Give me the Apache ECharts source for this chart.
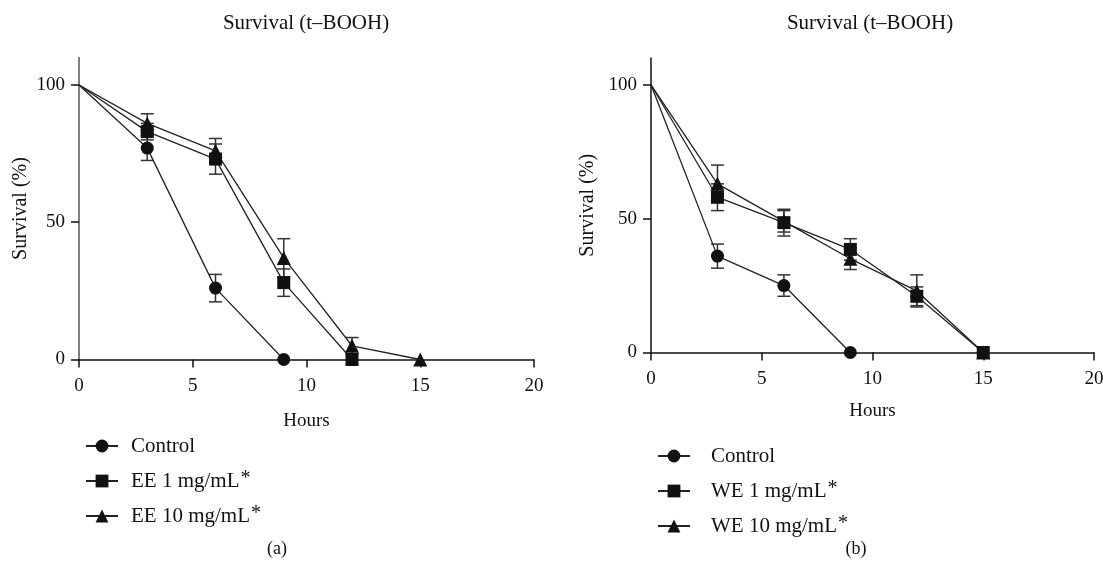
<!DOCTYPE html>
<html>
<head>
    <meta http-equiv="Content-Type" content="text/html; charset=utf-8"/>
    <script src="https://cdn.jsdelivr.net/npm/echarts@6/dist/echarts.min.js"></script>
    <style>
        html, body { margin: 0; padding: 0; background: #fff; }
    </style>
</head>
<body>

<div id="survival" style="width: 1103px; height: 573px;"></div>

<script type="text/javascript">
    // time points (hours)
    var hours = [0, 3, 6, 9, 12, 15];

    // (a) EE extract
    var ctrlA = [100, 77, 26, 0];
    var ctrlAErr = [0, 4.5, 5, 0];
    var ee1 = [100, 83, 73, 28, 0];
    var ee1Err = [0, 3, 5.5, 5, 0];
    var ee10 = [100, 86, 76, 37, 5, 0];
    var ee10Err = [0, 3.5, 4.5, 7, 3, 0];

    // (b) WE extract
    var ctrlB = [100, 36, 25, 0];
    var ctrlBErr = [0, 4.5, 4, 0];
    var we1 = [100, 58, 48.5, 38.5, 21, 0];
    var we1Err = [0, 5, 5, 4, 3.5, 0];
    var we10 = [100, 63, 49, 35, 23, 0];
    var we10Err = [0, 7, 4, 4, 6, 0];

    var yTicks = [0, 50, 100];

    var FONT = '"Liberation Serif", "DejaVu Serif", serif';
    var INK = '#111';

    // [x, y] points; the starting point (100 %) has no marker
    function pairs(vals) {
        return vals.map(function (v, i) {
            if (i === 0) return { value: [hours[i], v], symbol: 'none' };
            return [hours[i], v];
        });
    }
    function errPairs(vals, errs) {
        var out = [];
        vals.forEach(function (v, i) {
            if (errs[i] > 0) out.push([hours[i], v - errs[i], v + errs[i]]);
        });
        return out;
    }

    function xAxisFor(idx) {
        return {
            gridIndex: idx,
            type: 'value',
            min: 0, max: 20, interval: 5,
            name: 'Hours',
            nameLocation: 'middle',
            nameGap: idx === 0 ? 52 : 49,
            nameTextStyle: { fontFamily: FONT, fontSize: 19, color: INK },
            axisLine: { lineStyle: { color: INK, width: 1.5 } },
            axisTick: { length: 8, lineStyle: { color: INK, width: 1.5 } },
            axisLabel: { fontFamily: FONT, fontSize: 19, color: INK, margin: 17 },
            splitLine: { show: false }
        };
    }
    function yAxisFor(idx) {
        return {
            gridIndex: idx,
            type: 'value',
            min: 0, max: 110,
            name: 'Survival (%)',
            nameLocation: 'middle',
            nameGap: idx === 0 ? 48 : 53,
            nameTextStyle: { fontFamily: FONT, fontSize: 20, color: INK },
            axisLine: { show: true, lineStyle: { color: idx === 0 ? '#555' : INK, width: 1.5 } },
            axisTick: { show: true, length: 8, customValues: yTicks, lineStyle: { color: INK, width: 1.5 } },
            axisLabel: { fontFamily: FONT, fontSize: 19, color: INK, margin: 14, customValues: yTicks },
            splitLine: { show: false }
        };
    }

    function lineSeries(name, symbol, vals, idx) {
        return {
            name: name,
            type: 'line',
            xAxisIndex: idx, yAxisIndex: idx,
            data: pairs(vals),
            symbol: symbol,
            symbolSize: symbol === 'triangle' ? 14 : 13,
            showAllSymbol: true,
            color: INK,
            itemStyle: { color: INK },
            lineStyle: { color: '#222', width: 1.3 },
            z: 3
        };
    }

    // error bars drawn through the axis scales
    function errSeries(vals, errs, idx) {
        return {
            type: 'custom',
            xAxisIndex: idx, yAxisIndex: idx,
            data: errPairs(vals, errs),
            encode: { x: 0, y: [1, 2] },
            silent: true,
            z: 2,
            renderItem: function (params, api) {
                var lo = api.coord([api.value(0), api.value(1)]);
                var hi = api.coord([api.value(0), api.value(2)]);
                var w = 6.5;
                var st = { stroke: '#333', lineWidth: 1.5 };
                return {
                    type: 'group',
                    children: [
                        { type: 'line', shape: { x1: lo[0], y1: lo[1], x2: hi[0], y2: hi[1] }, style: st },
                        { type: 'line', shape: { x1: lo[0] - w, y1: lo[1], x2: lo[0] + w, y2: lo[1] }, style: st },
                        { type: 'line', shape: { x1: hi[0] - w, y1: hi[1], x2: hi[0] + w, y2: hi[1] }, style: st }
                    ]
                };
            }
        };
    }

    function legendFor(names, left, top, pad) {
        return {
            data: names,
            orient: 'vertical',
            left: left, top: top,
            itemWidth: 32, itemHeight: 16,
            itemGap: 7,
            selectedMode: false,
            // every item gets the same rich token so the rows stay evenly spaced
            formatter: function (n) { return n + '{s|' + (n === 'Control' ? ' ' : '*') + '}'; },
            textStyle: {
                fontFamily: FONT, fontSize: 21, color: INK,
                lineHeight: 24,
                padding: [0, 0, 0, pad],
                rich: { s: { fontFamily: FONT, fontSize: 20, color: INK, verticalAlign: 'top', lineHeight: 14, padding: [0, 0, 8, 1] } }
            }
        };
    }

    var chart = echarts.init(document.getElementById('survival'));
    var option = {
        backgroundColor: '#fff',
        animation: false,
        grid: [
            { left: 79, right: 569, top: 57.5, bottom: 213.5, outerBoundsMode: 'none' },
            { left: 651, right: 9, top: 58, bottom: 220.5, outerBoundsMode: 'none' }
        ],
        xAxis: [xAxisFor(0), xAxisFor(1)],
        yAxis: [yAxisFor(0), yAxisFor(1)],
        legend: [
            legendFor(['Control', 'EE 1 mg/mL', 'EE 10 mg/mL'], 80, 429, 8),
            legendFor(['Control', 'WE 1 mg/mL', 'WE 10 mg/mL'], 652, 439, 16)
        ],
        graphic: [
            { type: 'text', x: 306, y: 23, style: { text: 'Survival (t–BOOH)', font: '21px ' + FONT, fill: INK, align: 'center', verticalAlign: 'middle' } },
            { type: 'text', x: 870, y: 23, style: { text: 'Survival (t–BOOH)', font: '21px ' + FONT, fill: INK, align: 'center', verticalAlign: 'middle' } },
            { type: 'text', x: 277, y: 549, style: { text: '(a)', font: '18px ' + FONT, fill: INK, align: 'center', verticalAlign: 'middle' } },
            { type: 'text', x: 856, y: 549, style: { text: '(b)', font: '18px ' + FONT, fill: INK, align: 'center', verticalAlign: 'middle' } }
        ],
        series: [
            errSeries(ctrlA, ctrlAErr, 0),
            errSeries(ee1, ee1Err, 0),
            errSeries(ee10, ee10Err, 0),
            lineSeries('Control', 'circle', ctrlA, 0),
            lineSeries('EE 10 mg/mL', 'triangle', ee10, 0),
            lineSeries('EE 1 mg/mL', 'rect', ee1, 0),

            errSeries(ctrlB, ctrlBErr, 1),
            errSeries(we1, we1Err, 1),
            errSeries(we10, we10Err, 1),
            lineSeries('Control', 'circle', ctrlB, 1),
            lineSeries('WE 10 mg/mL', 'triangle', we10, 1),
            lineSeries('WE 1 mg/mL', 'rect', we1, 1)
        ]
    };
    chart.setOption(option);
</script>

</body>
</html>
